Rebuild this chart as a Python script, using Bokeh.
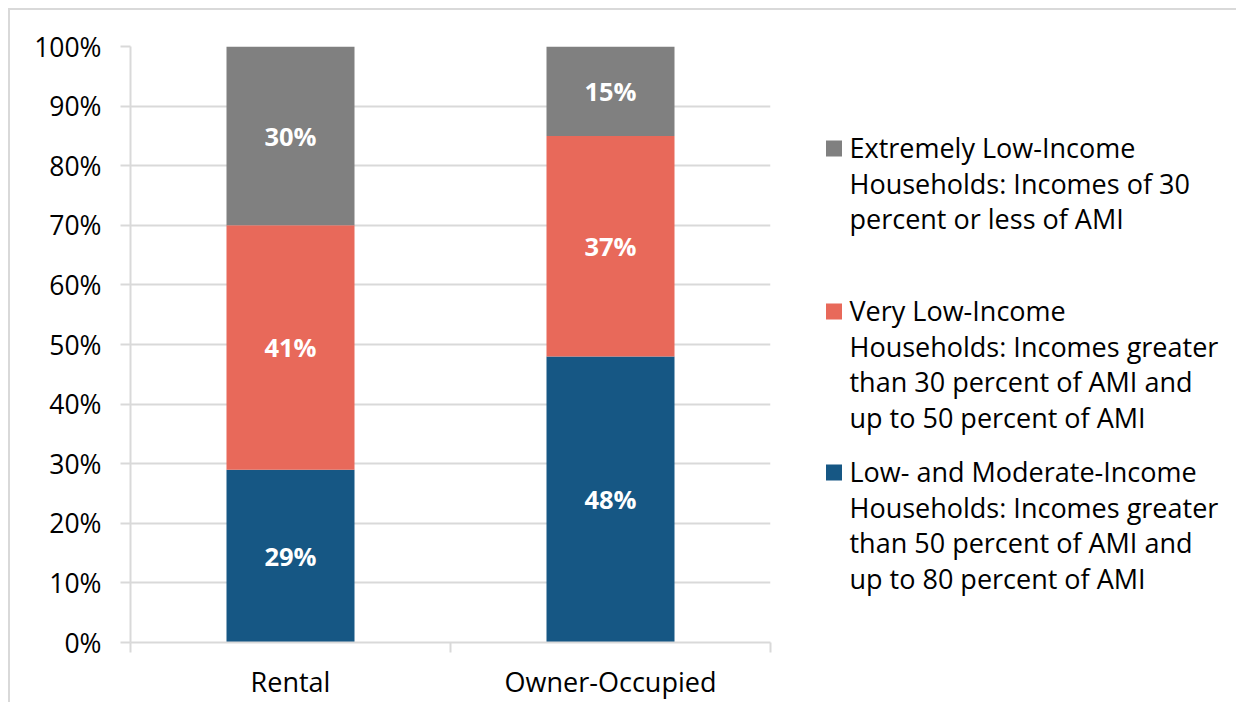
from bokeh.plotting import figure
from bokeh.models import (ColumnDataSource, Range1d, FixedTicker, PrintfTickFormatter)
from bokeh.layouts import row
from bokeh.embed import file_html
from bokeh.resources import INLINE
from bokeh.core.properties import value

# ---- data ----
categories = ["Rental", "Owner-Occupied"]
low_moderate = [29, 48]      # Low- and Moderate-Income
very_low = [41, 37]          # Very Low-Income
extremely_low = [30, 15]     # Extremely Low-Income
y_ticks = [0, 10, 20, 30, 40, 50, 60, 70, 80, 90, 100]

series_keys = ["low_moderate", "very_low", "extremely_low"]
series_colors = ["#165784", "#E8695A", "#808080"]
legend_lines = [
    ["Extremely Low-Income", "Households: Incomes of 30", "percent or less of AMI"],
    ["Very Low-Income", "Households: Incomes greater", "than 30 percent of AMI and", "up to 50 percent of AMI"],
    ["Low- and Moderate-Income", "Households: Incomes greater", "than 50 percent of AMI and", "up to 80 percent of AMI"],
]
legend_colors = ["#808080", "#E8695A", "#165784"]

FONT = "Open Sans"
GRID = "#D9D9D9"

n = len(categories)
xs = [i + 0.5 for i in range(n)]
src = ColumnDataSource(dict(x=xs, low_moderate=low_moderate, very_low=very_low,
                            extremely_low=extremely_low))

BT, BB = 36, 60
p = figure(width=790, height=692, x_range=Range1d(0, n), y_range=Range1d(0, 100),
           output_backend="svg", toolbar_location=None,
           min_border_left=120, min_border_right=30, min_border_top=BT, min_border_bottom=BB)
p.outline_line_color = None
p.vbar_stack(series_keys, x="x", width=0.4, color=series_colors, line_color=None, source=src)

# value labels centred in each segment
lx, ly, lt = [], [], []
for i in range(n):
    base = 0
    for arr in (low_moderate, very_low, extremely_low):
        lx.append(xs[i]); ly.append(base + arr[i] / 2); lt.append(f"{arr[i]}%")
        base += arr[i]
p.text(x=lx, y=ly, text=lt, text_color="white", text_font=value(FONT),
       text_font_style="bold", text_font_size="25.5px", text_align="center",
       text_baseline="middle")

# y axis
p.yaxis.ticker = FixedTicker(ticks=y_ticks)
p.yaxis.formatter = PrintfTickFormatter(format="%d%%")
p.yaxis.axis_line_color = GRID
p.yaxis.axis_line_width = 2
p.yaxis.major_tick_line_color = GRID
p.yaxis.major_tick_line_width = 2
p.yaxis.major_tick_out = 10
p.yaxis.major_tick_in = 0
p.yaxis.minor_tick_line_color = None
p.yaxis.major_label_text_font = FONT
p.yaxis.major_label_text_font_size = "26.5px"
p.yaxis.major_label_text_color = "#000000"
p.yaxis.major_label_standoff = 19

# x axis: ticks at category boundaries, labels at centres
p.xaxis.ticker = FixedTicker(ticks=xs, minor_ticks=list(range(n + 1)))
p.xaxis.major_label_overrides = {x: c for x, c in zip(xs, categories)}
p.xaxis.axis_line_color = GRID
p.xaxis.axis_line_width = 2
p.xaxis.major_tick_line_color = None
p.xaxis.major_tick_out = 0
p.xaxis.major_tick_in = 0
p.xaxis.minor_tick_line_color = GRID
p.xaxis.minor_tick_line_width = 2
p.xaxis.minor_tick_out = 10
p.xaxis.minor_tick_in = 0
p.xaxis.major_label_text_font = FONT
p.xaxis.major_label_text_font_size = "27px"
p.xaxis.major_label_text_color = "#000000"
p.xaxis.major_label_standoff = 10

p.xgrid.grid_line_color = None
p.ygrid.grid_line_color = GRID
p.ygrid.grid_line_width = 2
p.ygrid.ticker = FixedTicker(ticks=y_ticks)

# legend panel: frame aligned with main frame, coordinates in page pixels
leg = figure(width=436, height=692, x_range=Range1d(800, 1236), y_range=Range1d(642, 46),
             output_backend="svg", toolbar_location=None,
             min_border_left=0, min_border_right=0, min_border_top=BT, min_border_bottom=BB)
leg.axis.visible = False
leg.grid.visible = False
leg.outline_line_color = None
starts = [147, 310, 471]
line_h = 35.5
sx, sy, sc = [], [], []
tx, ty, tt = [], [], []
for k, lines in enumerate(legend_lines):
    sx.append(833.5); sy.append(starts[k] + 1); sc.append(legend_colors[k])
    for j, t in enumerate(lines):
        tx.append(849); ty.append(starts[k] + j * line_h); tt.append(t)
leg.scatter(x=sx, y=sy, marker="square", size=16, color=sc, line_color=None)
leg.text(x=tx, y=ty, text=tt, text_font=value(FONT), text_font_size="27px",
         text_color="#000000", text_baseline="middle", text_align="left")

layout = row(p, leg, styles={"border-top": "2px solid #D9D9D9", "border-left": "2px solid #D9D9D9",
                             "margin-left": "8px", "margin-top": "8px"})

open("out.html", "w").write(file_html(layout, INLINE))
